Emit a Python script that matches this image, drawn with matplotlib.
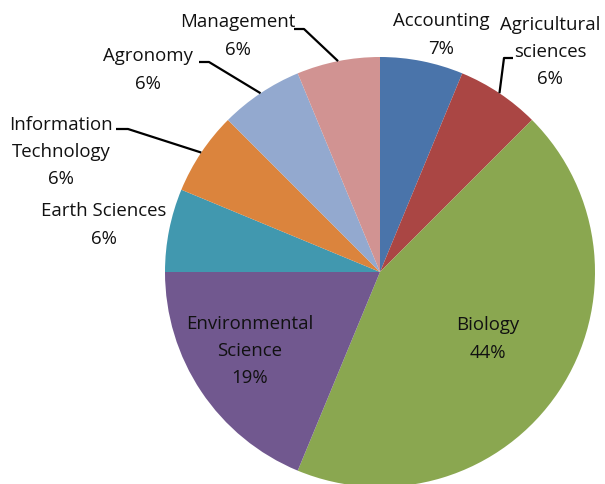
import numpy as np
import matplotlib.pyplot as plt
import matplotlib

matplotlib.rcParams['font.family'] = ['Open Sans', 'DejaVu Sans']

# data (shares of the pie) and the printed labels
categories = ['Accounting', 'Agricultural\nsciences', 'Biology', 'Environmental\nScience',
              'Earth Sciences', 'Information\nTechnology', 'Agronomy', 'Management']
shares = [1, 1, 7, 3, 1, 1, 1, 1]
pct_labels = ['7%', '6%', '44%', '19%', '6%', '6%', '6%', '6%']
colors = ['#4a74aa', '#aa4644', '#8aa750', '#71588f', '#4198af', '#db843d', '#93a9cf', '#d19392']

# label layout in pixels (x, y from top) and whether a leader line is drawn
W, H = 605, 485
cx, cy, R = 380, 273, 215
label_pos = [(441, 35), (550, 52), (488, 339), (250, 351),
             (104, 225), (61, 152), (148, 70), (238, 36)]
leader_start = [None, (513, 59), None, None, None, (116, 130), (199, 63), (294, 30)]
leader_knee = [None, (504, 59), None, None, None, (128, 130), (209, 63), (304, 30)]

fig = plt.figure(figsize=(W / 100, H / 100), dpi=100)
ax = fig.add_axes([0, 0, 1, 1])

wedges, _ = ax.pie(shares, colors=colors, startangle=90, counterclock=False,
                   center=(cx, H - cy), radius=R,
                   wedgeprops=dict(linewidth=0))
ax.set_xlim(0, W)
ax.set_ylim(0, H)
ax.set_aspect('equal')
ax.axis('off')

for i, w in enumerate(wedges):
    x, y = label_pos[i]
    ax.text(x, H - y, categories[i] + '\n' + pct_labels[i], ha='center', va='center',
            fontsize=13.4, linespacing=1.66, color='#111111')
    if leader_start[i] is not None:
        mid = np.deg2rad((w.theta1 + w.theta2) / 2)
        ex, ey = cx + R * np.cos(mid), H - cy + R * np.sin(mid)
        sx, sy = leader_start[i]
        kx, ky = leader_knee[i]
        ax.plot([sx, kx, ex], [H - sy, H - ky, ey], color='black', lw=1.6,
                solid_capstyle='butt')

plt.savefig('out.png', dpi=100)
